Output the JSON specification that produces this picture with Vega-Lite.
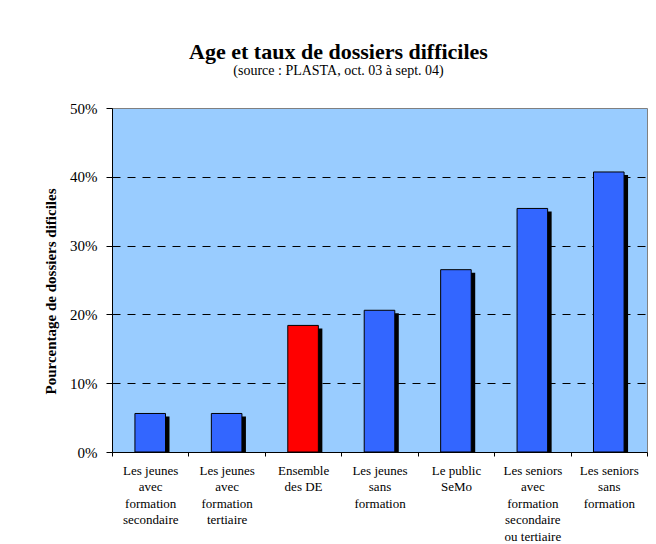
{
  "$schema": "https://vega.github.io/schema/vega-lite/v6.json",
  "autosize": {"type": "none"},
  "width": 535,
  "height": 344,
  "padding": {"left": 112, "top": 108, "right": 9, "bottom": 92},
  "background": "white",
  "title": {
    "text": "Age et taux de dossiers difficiles",
    "subtitle": "(source : PLASTA, oct. 03 à sept. 04)",
    "anchor": "middle",
    "frame": "group",
    "dx": -41,
    "offset": 22,
    "font": "Liberation Serif",
    "fontSize": 22,
    "fontWeight": "bold",
    "color": "black",
    "subtitleFont": "Liberation Serif",
    "subtitleFontSize": 14,
    "subtitleColor": "black",
    "subtitlePadding": 0
  },
  "data": {
    "values": [
      {"categorie": "Les jeunes avec formation secondaire", "groupe": "segment", "taux": 0.056},
      {"categorie": "Les jeunes avec formation tertiaire", "groupe": "segment", "taux": 0.056},
      {"categorie": "Ensemble des DE", "groupe": "ensemble", "taux": 0.184},
      {"categorie": "Les jeunes sans formation", "groupe": "segment", "taux": 0.206},
      {"categorie": "Le public SeMo", "groupe": "segment", "taux": 0.265},
      {"categorie": "Les seniors avec formation secondaire ou tertiaire", "groupe": "segment", "taux": 0.354},
      {"categorie": "Les seniors sans formation", "groupe": "segment", "taux": 0.407}
    ]
  },
  "encoding": {
    "x": {
      "field": "categorie",
      "type": "nominal",
      "sort": null,
      "scale": {"paddingInner": 0, "paddingOuter": 0},
      "axis": {
        "title": null,
        "labelAngle": 0,
        "tickBand": "extent",
        "tickSize": 4,
        "tickColor": "black",
        "domainColor": "black",
        "labelFont": "Liberation Serif",
        "labelFontSize": 13,
        "labelColor": "black",
        "labelPadding": 8,
        "labelLineHeight": 16.5,
        "labelBaseline": "top",
        "labelExpr": "{'Les jeunes avec formation secondaire': ['Les jeunes', 'avec', 'formation', 'secondaire'], 'Les jeunes avec formation tertiaire': ['Les jeunes', 'avec', 'formation', 'tertiaire'], 'Ensemble des DE': ['Ensemble', 'des DE'], 'Les jeunes sans formation': ['Les jeunes', 'sans', 'formation'], 'Le public SeMo': ['Le public', 'SeMo'], 'Les seniors avec formation secondaire ou tertiaire': ['Les seniors', 'avec', 'formation', 'secondaire', 'ou tertiaire'], 'Les seniors sans formation': ['Les seniors', 'sans', 'formation']}[datum.value]"
      }
    },
    "y": {
      "field": "taux",
      "type": "quantitative",
      "scale": {"domain": [0, 0.5], "nice": false},
      "axis": {
        "title": "Pourcentage de dossiers dificiles",
        "format": ".0%",
        "values": [0, 0.1, 0.2, 0.3, 0.4, 0.5],
        "grid": true,
        "gridColor": {"condition": {"test": "datum.value <= 0 || datum.value >= 0.5", "value": "transparent"}, "value": "black"},
        "gridDash": [8, 7],
        "gridWidth": 1,
        "tickSize": 6,
        "tickColor": "black",
        "domainColor": "black",
        "labelFont": "Liberation Serif",
        "labelFontSize": 15,
        "labelColor": "black",
        "labelPadding": 9,
        "titleFont": "Liberation Serif",
        "titleFontSize": 15,
        "titleFontWeight": "bold",
        "titleColor": "black",
        "titleX": -62,
        "titleY": 183,
        "titleAlign": "center",
        "titleBaseline": "middle"
      }
    }
  },
  "layer": [
    {
      "mark": {"type": "bar", "width": {"band": 0.4}, "xOffset": 4, "yOffset": 3, "color": "black", "clip": true}
    },
    {
      "mark": {"type": "bar", "width": {"band": 0.4}, "stroke": "black", "strokeWidth": 1},
      "encoding": {
        "color": {
          "field": "groupe",
          "type": "nominal",
          "scale": {"domain": ["segment", "ensemble"], "range": ["#3366FF", "#FF0000"]},
          "legend": null
        }
      }
    }
  ],
  "config": {
    "view": {"fill": "#99CCFF", "stroke": "#808080", "strokeWidth": 1}
  }
}
